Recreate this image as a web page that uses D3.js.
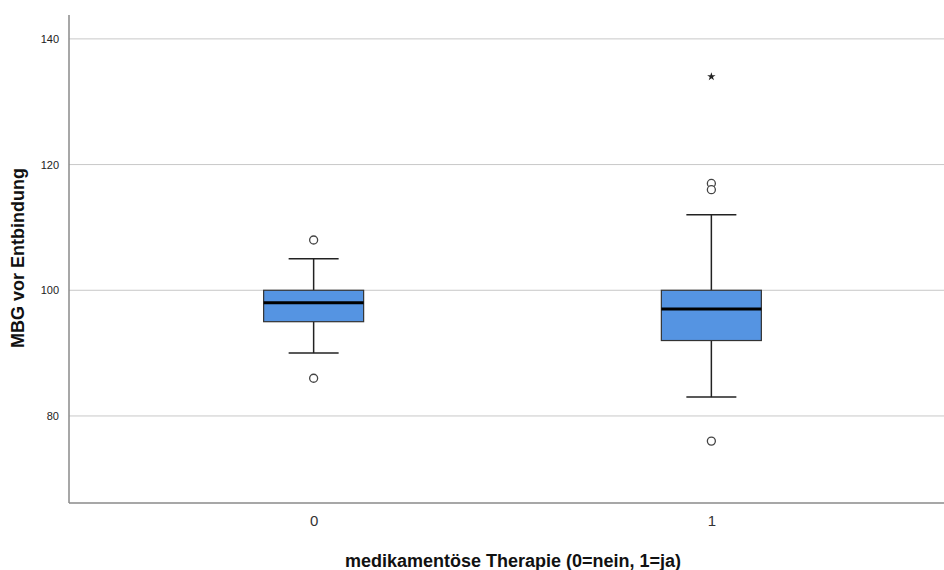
<!DOCTYPE html>
<html><head><meta charset="utf-8">
<script src="https://cdn.jsdelivr.net/npm/d3@7"></script>
<style>body{margin:0;background:#fff}svg{display:block;font-family:Arial,"Liberation Sans",sans-serif}</style>
</head><body><svg id="c" width="944" height="570"></svg>
<script>
const categories = ["0","1"];
const q1 = [95, 92];
const median = [98, 97];
const q3 = [100, 100];
const whiskerLow = [90, 83];
const whiskerHigh = [105, 112];
const outliers = [[108, 86], [117, 116, 76]];
const extremes = [[], [134]];
const yTicks = [80, 100, 120, 140];

const svg = d3.select("#c");
const mLeft = 69, mRight = 944, mTop = 15, mBottom = 503;
const y = d3.scaleLinear().domain([66.15, 143.8]).range([mBottom, mTop]);
const x = d3.scalePoint().domain(categories).range([75, 950]).padding(0.6);
const boxW = 100, capW = 50;

// gridlines
svg.append("g").selectAll("line").data(yTicks).join("line")
  .attr("x1", mLeft).attr("x2", mRight).attr("y1", d=>y(d)).attr("y2", d=>y(d))
  .attr("stroke", "#c8c8c8").attr("stroke-width", 1);

// y axis
const ya = svg.append("g").attr("transform", `translate(${mLeft},0)`)
  .call(d3.axisLeft(y).tickValues(yTicks).tickSize(0).tickPadding(10));
ya.select(".domain").remove();
ya.selectAll("text").attr("font-size", 11).attr("fill", "#222").attr("font-family", "Arial, Liberation Sans, sans-serif");

// x axis
const xa = svg.append("g").attr("transform", `translate(0,${mBottom})`)
  .call(d3.axisBottom(x).tickSize(0).tickPadding(12));
xa.select(".domain").remove();
xa.selectAll("text").attr("font-size", 15).attr("fill", "#333").attr("font-family", "Arial, Liberation Sans, sans-serif");

// axis lines
svg.append("line").attr("x1", mLeft).attr("x2", mLeft).attr("y1", mTop).attr("y2", mBottom)
  .attr("stroke", "#8a8a8a").attr("stroke-width", 1.5);
svg.append("line").attr("x1", mLeft).attr("x2", mRight).attr("y1", mBottom).attr("y2", mBottom)
  .attr("stroke", "#8a8a8a").attr("stroke-width", 1.5);

categories.forEach((c, i) => {
  const cx = x(c);
  const gg = svg.append("g");
  gg.append("line").attr("x1", cx).attr("x2", cx).attr("y1", y(whiskerHigh[i])).attr("y2", y(q3[i])).attr("stroke", "#222").attr("stroke-width", 1.5);
  gg.append("line").attr("x1", cx).attr("x2", cx).attr("y1", y(q1[i])).attr("y2", y(whiskerLow[i])).attr("stroke", "#222").attr("stroke-width", 1.5);
  [whiskerHigh[i], whiskerLow[i]].forEach(v => gg.append("line")
    .attr("x1", cx - capW/2).attr("x2", cx + capW/2).attr("y1", y(v)).attr("y2", y(v))
    .attr("stroke", "#222").attr("stroke-width", 1.5));
  gg.append("rect").attr("x", cx - boxW/2).attr("width", boxW)
    .attr("y", y(q3[i])).attr("height", y(q1[i]) - y(q3[i]))
    .attr("fill", "#5594e2").attr("stroke", "#333").attr("stroke-width", 1.2);
  gg.append("line").attr("x1", cx - boxW/2).attr("x2", cx + boxW/2).attr("y1", y(median[i])).attr("y2", y(median[i]))
    .attr("stroke", "#000").attr("stroke-width", 3);
  outliers[i].forEach(v => gg.append("circle").attr("cx", cx).attr("cy", y(v)).attr("r", 4)
    .attr("fill", "#fff").attr("stroke", "#444").attr("stroke-width", 1.3));
  extremes[i].forEach(v => gg.append("path").attr("d", d3.symbol(d3.symbolStar, 22)())
    .attr("transform", `translate(${cx},${y(v)})`).attr("fill", "#222"));
});

// titles
svg.append("text").attr("x", 513).attr("y", 567).attr("text-anchor", "middle")
  .attr("font-size", 18).attr("font-weight", "bold").attr("fill", "#111").text("medikamentöse Therapie (0=nein, 1=ja)");
svg.append("text").attr("transform", `translate(24,258) rotate(-90)`).attr("text-anchor", "middle")
  .attr("font-size", 18).attr("font-weight", "bold").attr("fill", "#111").text("MBG vor Entbindung");
</script></body></html>
